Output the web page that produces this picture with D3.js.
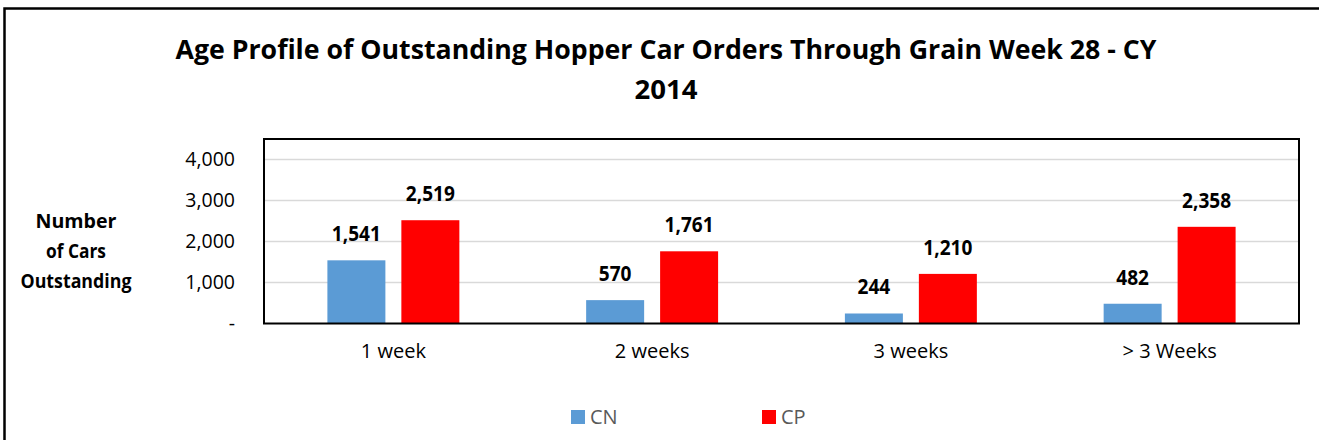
<!DOCTYPE html>
<html lang="en">
	<head>
		<meta charset="utf-8">
		<title>Age Profile of Outstanding Hopper Car Orders</title>
		<script type="text/javascript" src="https://cdn.jsdelivr.net/npm/d3@7"></script>
		<style type="text/css">
			body { margin: 0; background: #fff; }
			text { font-family: "Open Sans", "Noto Sans", sans-serif; }
		</style>
	</head>
	<body>
		<script type="text/javascript">

			//Data
			var categories = ["1 week", "2 weeks", "3 weeks", "> 3 Weeks"];
			var seriesNames = ["CN", "CP"];
			var cnValues = [1541, 570, 244, 482];
			var cpValues = [2519, 1761, 1210, 2358];
			var yTicks = [0, 1000, 2000, 3000, 4000];
			var colors = {CN: "#5B9BD5", CP: "#FF0000"};

			//Width and height
			var w = 1319;
			var h = 440;
			var plot = {left: 264, right: 1299, top: 139, bottom: 323.5};

			var svg = d3.select("body")
						.append("svg")
						.attr("width", w)
						.attr("height", h);

			//Outer frame (only top and left edges are visible)
			svg.append("rect")
			   .attr("x", 4.5)
			   .attr("y", 8.5)
			   .attr("width", w + 20)
			   .attr("height", h + 20)
			   .attr("fill", "none")
			   .attr("stroke", "#000")
			   .attr("stroke-width", 2.5);

			//squeeze text to a width (Calibri-like narrow look)
			function squeeze(sel, target) {
				sel.attr("textLength", target).attr("lengthAdjust", "spacingAndGlyphs");
			}

			//Title
			var t1 = svg.append("text")
			   .attr("x", 666)
			   .attr("y", 59)
			   .attr("text-anchor", "middle")
			   .attr("font-weight", "bold")
			   .attr("font-size", "26px")
			   .attr("fill", "#000")
			   .text("Age Profile of Outstanding Hopper Car Orders Through Grain Week 28 - CY");
			squeeze(t1, 981);
			var t2 = svg.append("text")
			   .attr("x", 666)
			   .attr("y", 99)
			   .attr("text-anchor", "middle")
			   .attr("font-weight", "bold")
			   .attr("font-size", "26px")
			   .attr("fill", "#000")
			   .text("2014");
			squeeze(t2, 63);

			//Scales
			var x = d3.scaleBand()
					  .domain(categories)
					  .range([plot.left, plot.right]);

			var xSub = d3.scaleBand()
						 .domain(seriesNames)
						 .range([0, x.bandwidth()])
						 .paddingInner(0.216)
						 .paddingOuter(0.857);

			var y = d3.scaleLinear()
					  .domain([0, 4500])
					  .range([plot.bottom, plot.top]);

			//Gridlines
			svg.append("g")
			   .selectAll("line")
			   .data(yTicks.slice(1))
			   .enter()
			   .append("line")
			   .attr("x1", plot.left)
			   .attr("x2", plot.right)
			   .attr("y1", function(d) { return y(d); })
			   .attr("y2", function(d) { return y(d); })
			   .attr("stroke", "#D9D9D9")
			   .attr("stroke-width", 1.5);

			//Y tick labels
			var yAxis = d3.axisLeft(y)
						  .tickValues(yTicks)
						  .tickSize(0)
						  .tickPadding(29)
						  .tickFormat(function(d) { return d === 0 ? "-" : d3.format(",")(d); });
			var yg = svg.append("g")
			   .attr("transform", "translate(" + plot.left + ",0)")
			   .call(yAxis);
			yg.select(".domain").remove();
			yg.selectAll("text")
			  .attr("font-family", "\"Open Sans\", sans-serif")
			  .attr("font-size", "19.5px")
			  .attr("fill", "#000");

			//Bars
			var flat = [];
			categories.forEach(function(c, i) {
				flat.push({cat: c, s: "CN", v: cnValues[i]});
				flat.push({cat: c, s: "CP", v: cpValues[i]});
			});

			svg.append("g")
			   .selectAll("rect")
			   .data(flat)
			   .enter()
			   .append("rect")
			   .attr("x", function(d) { return x(d.cat) + xSub(d.s); })
			   .attr("y", function(d) { return y(d.v); })
			   .attr("width", xSub.bandwidth())
			   .attr("height", function(d) { return y(0) - y(d.v); })
			   .attr("fill", function(d) { return colors[d.s]; });

			//Value labels
			svg.append("g")
			   .selectAll("text")
			   .data(flat)
			   .enter()
			   .append("text")
			   .attr("x", function(d) { return x(d.cat) + xSub(d.s) + xSub.bandwidth() / 2; })
			   .attr("y", function(d) { return y(d.v) - 19; })
			   .attr("text-anchor", "middle")
			   .attr("font-weight", "bold")
			   .attr("font-size", "20.5px")
			   .attr("fill", "#000")
			   .text(function(d) { return d3.format(",")(d.v); })
			   .each(function(d) {
			   		var len = this.getComputedTextLength();
			   		d3.select(this).attr("textLength", len * 0.93).attr("lengthAdjust", "spacingAndGlyphs");
			   });

			//Plot border
			svg.append("rect")
			   .attr("x", plot.left)
			   .attr("y", plot.top)
			   .attr("width", plot.right - plot.left)
			   .attr("height", plot.bottom - plot.top)
			   .attr("fill", "none")
			   .attr("stroke", "#000")
			   .attr("stroke-width", 2);

			//X axis labels
			var xAxis = d3.axisBottom(x).tickSize(0).tickPadding(20);
			var xg = svg.append("g")
			   .attr("transform", "translate(0," + plot.bottom + ")")
			   .call(xAxis);
			xg.select(".domain").remove();
			xg.selectAll("text")
			  .attr("font-family", "\"Open Sans\", sans-serif")
			  .attr("font-size", "20px")
			  .attr("fill", "#000");

			//Y axis title
			var yTitle = ["Number", "of Cars", "Outstanding"];
			var yTitleW = [81, 60, 111];
			svg.append("g")
			   .selectAll("text")
			   .data(yTitle)
			   .enter()
			   .append("text")
			   .attr("x", 76)
			   .attr("y", function(d, i) { return 228 + i * 30; })
			   .attr("text-anchor", "middle")
			   .attr("font-weight", "bold")
			   .attr("font-size", "19.5px")
			   .attr("fill", "#000")
			   .attr("textLength", function(d, i) { return yTitleW[i]; })
			   .attr("lengthAdjust", "spacingAndGlyphs")
			   .text(function(d) { return d; });

			//Legend
			var legendX = [571, 762];
			var lg = svg.append("g")
			   .selectAll("g")
			   .data(seriesNames)
			   .enter()
			   .append("g")
			   .attr("transform", function(d, i) { return "translate(" + legendX[i] + ",410)"; });
			lg.append("rect")
			  .attr("width", 14)
			  .attr("height", 14)
			  .attr("fill", function(d) { return colors[d]; });
			lg.append("text")
			  .attr("x", 19)
			  .attr("y", 14)
			  .attr("font-size", "20px")
			  .attr("fill", "#595959")
			  .text(function(d) { return d; });

		</script>
	</body>
</html>
